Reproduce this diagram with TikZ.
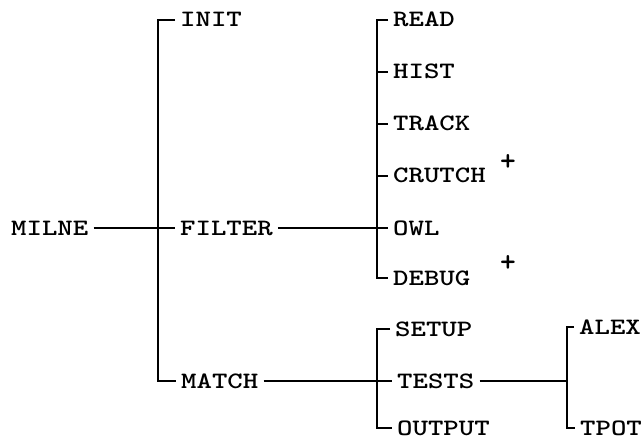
\documentclass[tikz,border=0pt]{standalone}
\usepackage{graphicx}
% wide typewriter lettering
\newcommand\twlabel[1]{\scalebox{1.25}[1]{#1}}
\tikzset{
  lbl/.style={anchor=west, inner xsep=5pt, inner ysep=0pt,
    text height=14pt, text depth=0pt,
    font=\fontsize{23.5}{27}\selectfont\ttfamily\bfseries},
  mark plus/.style={inner sep=0pt, font=\fontsize{30}{32}\selectfont\ttfamily\bfseries},
  wire/.style={line width=1.8pt, line join=miter}
}
\begin{document}
\begin{tikzpicture}[x=1pt, y=-1pt]
  \useasboundingbox (0,0) rectangle (644,438);

  % spine positions of the four brackets
  \coordinate (s1) at (158,0);
  \coordinate (s2) at (377,0);
  \coordinate (s4) at (567,0);

  % root and first level
  \node[lbl] (milne)  at (6,228)   {\twlabel{MILNE}};
  \node[lbl] (init)   at (175,20)  {\twlabel{INIT}};
  \node[lbl] (filter) at (175,228) {\twlabel{FILTER}};
  \node[lbl] (match)  at (176,381) {\twlabel{MATCH}};

  % FILTER children
  \node[lbl] (read)   at (388,20)  {\twlabel{READ}};
  \node[lbl] (hist)   at (388,72)  {\twlabel{HIST}};
  \node[lbl] (track)  at (388,124) {\twlabel{TRACK}};
  \node[lbl] (crutch) at (388,176) {\twlabel{CRUTCH}};
  \node[lbl] (owl)    at (388,228) {\twlabel{OWL}};
  \node[lbl] (debug)  at (388,278) {\twlabel{DEBUG}};
  \node[mark plus] (p1) at (508,163) {+};
  \node[mark plus] (p2) at (508,264) {+};

  % MATCH children
  \node[lbl] (setup)  at (390,329) {\twlabel{SETUP}};
  \node[lbl] (tests)  at (392,381) {\twlabel{TESTS}};
  \node[lbl] (output) at (392,428) {\twlabel{OUTPUT}};

  % TESTS children
  \node[lbl] (alex)   at (574,327) {\twlabel{ALEX}};
  \node[lbl] (tpot)   at (575,428) {\twlabel{TPOT}};

  % connectors
  \draw[wire] (milne.east) -- (filter.west);
  \draw[wire] (init.west) -| (s1 |- match.west) -- (match.west);

  \draw[wire] (filter.east) -- (owl.west);
  \draw[wire] (read.west) -| (s2 |- debug.west) -- (debug.west);
  \foreach \n in {hist,track,crutch}
    \draw[wire] (s2 |- \n.west) -- (\n.west);

  \draw[wire] (match.east) -- (tests.west);
  \draw[wire] (setup.west) -| (s2 |- output.west) -- (output.west);

  \draw[wire] (tests.east) -- (s4 |- tests.east);
  \draw[wire] (alex.west) -| (s4 |- tpot.west) -- (tpot.west);
\end{tikzpicture}
\end{document}
